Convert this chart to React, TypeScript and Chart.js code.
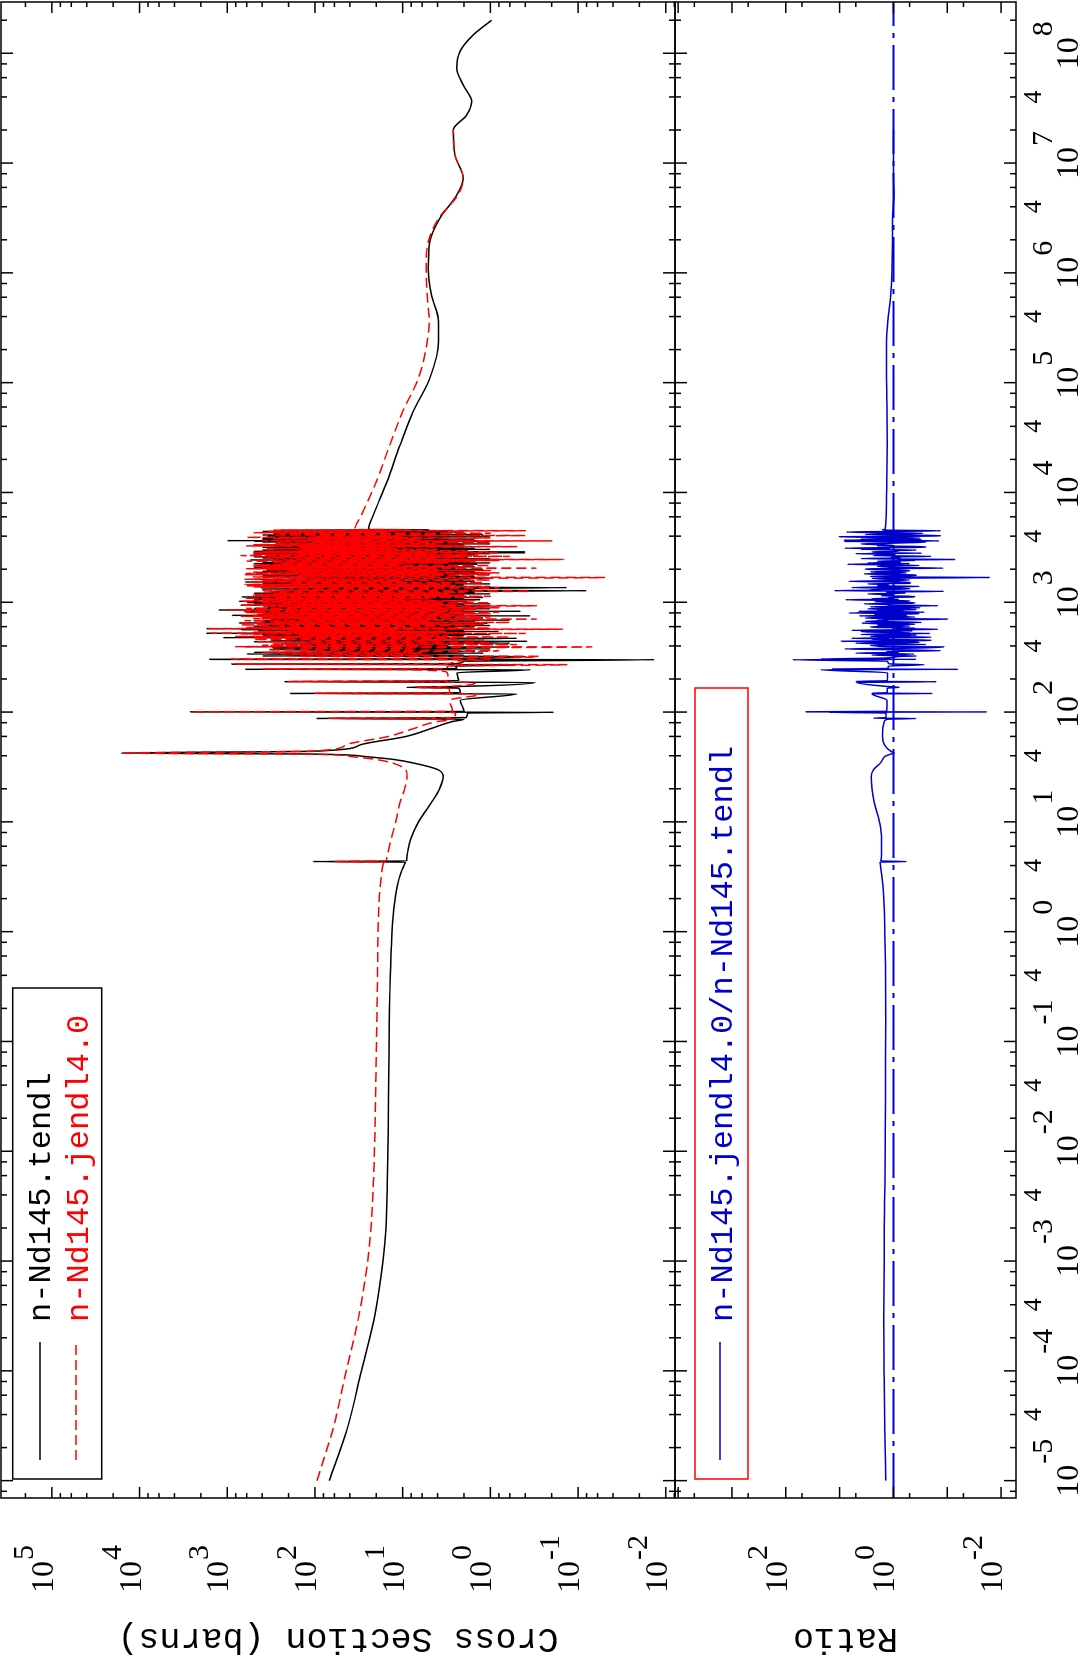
import React, { useEffect, useRef } from "react";
import { Chart, registerables } from "chart.js";

Chart.register(...registerables);

// ---------------- data (energy in eV, cross sections in barns) ----------------
// thermal / 1/v region and first resonances
const lowEnergyEV = [
  1e-5, 3e-5, 1e-4, 3e-4, 1e-3, 2e-3, 5e-3, 0.015, 0.05, 0.15,
  0.5, 1.0, 1.8, 2.6, 3.4, 3.9, 4.2, 4.3, 4.35, 4.4,
  4.6, 5.5, 7, 10, 15, 20, 26, 30, 34, 37,
  39.5, 41.5, 42.3, 44, 50, 60, 71, 82,
];
const lowTendl = [
  68.7, 42.7, 29.5, 21.1, 16.8, 15.5, 15.0, 14.6, 14.4, 14.2,
  13.7, 13.2, 12.4, 11.5, 10.5, 9.8, 9.4, 9.3, 105, 9.0,
  9.0, 8.7, 8.1, 6.6, 4.7, 3.8, 3.45, 4.0, 7.1, 12.6,
  28, 126, 16200, 100, 31, 9.1, 4.7, 2.7,
];
const lowJendl = [
  95, 62, 44, 32, 25, 23, 21.6, 20.7, 20.2, 19.7,
  19.3, 19.1, 18.6, 18.0, 17.4, 17.0, 16.6, 16.5, 60, 15.5,
  15.2, 14.5, 13.5, 12.0, 10.7, 9.5, 8.9, 9.3, 12.6, 20,
  40, 140, 15800, 112, 45, 14.5, 7.4, 4.0,
];

// isolated resonances 86 - 290 eV
const isolatedEnergyEV = [
  86, 87.4, 87.9, 89, 98, 99.6, 100.3, 100.5, 101.5, 128,
  146.5, 147.6, 148.4, 150, 165, 168, 171, 186, 189, 190,
  193, 228, 243, 245, 246.5, 249, 262, 270, 273, 276,
  290,
];
const isolatedTendl = [
  2.0, 95, 30, 1.9, 1.8, 0.19, 2630, 60, 2.0, 2.2,
  0.5, 190, 40, 2.2, 2.3, 9, 2.3, 0.31, 220, 40,
  2.3, 2.4, 0.35, 615, 30, 2.4, 2.5, 0.5, 890, 2.5,
  2.0,
];
const isolatedJendl = [
  2.6, 36, 70, 2.6, 2.5, 3.0, 48, 2500, 2.7, 2.9,
  1.25, 36, 100, 2.9, 3.0, 7, 3.0, 1.5, 35, 200,
  3.0, 3.1, 7.8, 39, 400, 3.1, 3.1, 0.135, 800, 3.1,
  2.6,
];

// dense resolved resonance region 300 eV - 4.6 keV
const clusterEnergyEV = [
  300, 302, 304, 310, 322, 324, 330, 338, 344, 350,
  356, 362, 370, 376, 382, 388, 392, 394, 400, 406,
  412, 418, 424, 430, 437, 441, 447, 453, 459, 465,
  470, 476, 482, 488, 495, 502, 508, 515, 520, 522,
  528, 535, 542, 548, 555, 562, 568, 575, 582, 590,
  598, 606, 614, 622, 630, 638, 645, 648, 655, 662,
  670, 680, 688, 695, 702, 710, 718, 725, 733, 745,
  752, 760, 768, 775, 783, 790, 798, 805, 812, 820,
  828, 835, 842, 850, 858, 865, 872, 880, 890, 900,
  908, 915, 922, 930, 940, 948, 958, 968, 978, 988,
  1000, 1010, 1020, 1030, 1042, 1055, 1065, 1078, 1090, 1105,
  1118, 1132, 1145, 1160, 1175, 1192, 1210, 1225, 1240, 1258,
  1275, 1290, 1305, 1320, 1340, 1360, 1380, 1395, 1410, 1430,
  1450, 1470, 1490, 1510, 1530, 1550, 1570, 1595, 1620, 1650,
  1680, 1700, 1725, 1750, 1770, 1790, 1810, 1830, 1850, 1870,
  1895, 1920, 1945, 1970, 1995, 2020, 2045, 2070, 2100, 2130,
  2160, 2190, 2220, 2250, 2280, 2310, 2340, 2370, 2400, 2430,
  2450, 2470, 2500, 2530, 2560, 2590, 2620, 2660, 2700, 2740,
  2770, 2800, 2820, 2850, 2880, 2910, 2950, 2990, 3030, 3070,
  3110, 3160, 3210, 3260, 3300, 3350, 3400, 3450, 3500, 3540,
  3580, 3600, 3620, 3640, 3680, 3720, 3760, 3800, 3850, 3900,
  3950, 4000, 4050, 4100, 4150, 4200, 4250, 4300, 4360, 4420,
  4480, 4530, 4570,
];
const clusterTendl = [
  0.0135, 1585, 40, 1.6, 0.4, 400, 2.0, 600, 1.2, 500,
  1.5, 6.0, 320, 1.0, 300, 2.5, 0.6, 630, 3.0, 150,
  2.0, 250, 0.6, 3.0, 500, 0.38, 320, 6.0, 200, 2.0,
  0.5, 1120, 3.0, 300, 2.0, 400, 1.0, 500, 1.9, 1740,
  4.0, 200, 0.8, 450, 2.0, 700, 1.0, 1740, 2.5, 300,
  1.5, 500, 1.0, 350, 3.0, 250, 1.07, 740, 2.0, 400,
  1.5, 500, 0.6, 320, 3.0, 400, 1.2, 200, 2.5, 630,
  0.35, 890, 2.0, 200, 3.0, 400, 1.5, 250, 3.0, 630,
  0.45, 300, 2.0, 1260, 4.0, 300, 1.0, 500, 2.5, 350,
  1.5, 320, 1.0, 2.0, 710, 2.0, 400, 1.0, 500, 2.5,
  600, 1.8, 740, 3.0, 300, 1.3, 500, 2.0, 600, 1.2,
  690, 2.5, 300, 2.0, 400, 1.0, 500, 1.5, 320, 3.0,
  0.08, 220, 1.5, 400, 2.0, 0.135, 430, 3.0, 300, 2.0,
  500, 1.0, 400, 2.5, 630, 1.5, 300, 2.0, 500, 1.0,
  3.0, 400, 1.5, 400, 2.5, 630, 1.0, 300, 1.4, 510,
  1.5, 400, 2.0, 360, 1.2, 300, 2.5, 500, 1.5, 250,
  3.0, 400, 1.4, 500, 1.0, 400, 1.7, 300, 2.0, 550,
  2.0, 300, 1.0, 400, 1.8, 500, 3.0, 300, 1.5, 450,
  1.0, 500, 0.4, 300, 0.4, 500, 1.8, 400, 1.0, 300,
  1.5, 400, 2.0, 300, 2.0, 250, 1.0, 250, 2.5, 400,
  1.0, 500, 1.4, 1000, 3.0, 400, 1.5, 400, 3.1, 300,
  1.0, 350, 3.0, 400, 1.2, 300, 3.5, 300, 2.0, 400,
  3.0, 250, 5.0,
];
const clusterJendl = [
  1.0, 600, 900, 2.5, 0.28, 150, 5.0, 250, 6.0, 400,
  2.0, 0.8, 350, 8.0, 150, 0.4, 0.07, 810, 6.0, 400,
  0.5, 300, 3.0, 1.0, 450, 3.5, 120, 1.2, 500, 2.5,
  3.0, 500, 0.6, 800, 3.0, 150, 4.0, 700, 0.4, 1500,
  2.0, 500, 3.2, 200, 12, 400, 0.15, 1600, 1.0, 600,
  4.0, 250, 1.5, 700, 1.2, 400, 4.0, 750, 0.6, 300,
  5.0, 630, 1.2, 150, 0.3, 500, 4.0, 400, 1.0, 700,
  1.5, 500, 3.0, 450, 1.0, 150, 10, 600, 0.8, 630,
  2.0, 200, 4.0, 1000, 1.5, 500, 3.0, 600, 0.8, 200,
  4.0, 400, 1.3, 0.3, 700, 2.5, 600, 3.5, 250, 1.0,
  400, 4.0, 700, 1.5, 500, 10, 400, 5.0, 630, 1.5,
  300, 1.0, 500, 2.0, 500, 3.0, 300, 2.0, 400, 0.35,
  1.0, 400, 4.0, 200, 1.0, 0.8, 500, 1.0, 600, 2.5,
  630, 3.0, 200, 1.2, 500, 10, 400, 1.0, 630, 2.5,
  0.05, 510, 4.0, 150, 1.0, 620, 3.5, 600, 0.8, 500,
  4.0, 200, 1.0, 350, 4.0, 600, 0.3, 400, 2.0, 500,
  1.0, 500, 10, 250, 3.0, 300, 1.5, 600, 0.8, 450,
  0.145, 160, 4.0, 300, 2.0, 400, 0.6, 700, 1.4, 500,
  5.0, 150, 0.8, 500, 1.0, 400, 1.8, 150, 4.0, 350,
  12, 150, 0.5, 600, 2.0, 500, 4.0, 280, 1.0, 100,
  8.0, 263, 0.2, 400, 25, 120, 6.0, 300, 1.0, 600,
  10, 100, 0.4, 300, 4.0, 250, 1.0, 500, 15, 350,
  0.4, 300, 8.0,
];

// smooth high-energy region (JENDL-4.0 ends at 20 MeV)
const highEnergyEV = [
  4600, 6240, 12500, 27100, 54500, 1.1e5, 2.36e5, 3.6e5, 6.28e5, 1.1e6,
  1.92e6, 3.14e6, 5.1e6, 7.26e6, 1.19e7, 2.0e7, 2.74e7, 3.63e7, 5.14e7, 7.3e7,
  1.04e8, 1.47e8, 2.0e8,
];
const highTendl = [
  24.5, 21.6, 15.1, 10.7, 7.6, 4.9, 3.9, 3.9, 4.7, 5.1,
  4.9, 3.76, 2.42, 2.04, 2.54, 2.65, 1.86, 1.63, 2.04, 2.42,
  2.22, 1.57, 0.97,
];
const highJendl: (number | null)[] = [
  35, 29.5, 20, 14, 10, 6.6, 5.25, 4.98, 5.25, 5.4,
  5.1, 3.9, 2.35, 2.04, 2.54, 2.65, null, null, null, null,
  null, null, null,
];

// axis ranges and tick definitions
const energyRangeEV = [6.95e-6, 2.93e8];
const crossSectionRange = [0.00785, 3.8e5];
const ratioRange = [0.00528, 11430];
const referenceRatio = 1;
const energyDecades = [-5, -4, -3, -2, -1, 0, 1, 2, 3, 4, 5, 6, 7, 8];
const energyMinorMantissas = [2, 4, 6, 8];
const energyLabelledMantissa = 4;
const crossSectionDecades = [-2, -1, 0, 1, 2, 3, 4, 5];
const crossSectionMinorMantissas = [2, 4, 6, 8];
const ratioDecades = [-2, -1, 0, 1, 2, 3, 4];
const ratioLabelDecades = [-2, 0, 2];
const ratioMinorMantissas = [5];

const legendTendl = "n-Nd145.tendl";
const legendJendl = "n-Nd145.jendl4.0";
const legendRatio = "n-Nd145.jendl4.0/n-Nd145.tendl";
const titleCrossSection = "Cross Section (barns)";
const titleRatio = "Ratio";

// ---------------- chart ----------------
const W = 1667;
const H = 1082;
const SERIF = '"Liberation Serif", "DejaVu Serif", serif';
const MONO = '"Liberation Mono", "DejaVu Sans Mono", monospace';
const RED = "#ff0000";
const BLUE = "#0000cd";

function buildSeries() {
  const E = [...lowEnergyEV, ...isolatedEnergyEV, ...clusterEnergyEV, ...highEnergyEV];
  const T = [...lowTendl, ...isolatedTendl, ...clusterTendl, ...highTendl];
  const J: (number | null)[] = [...lowJendl, ...isolatedJendl, ...clusterJendl, ...highJendl];
  const tendl: { x: number; y: number }[] = [];
  const jendl: { x: number; y: number }[] = [];
  const ratio: { x: number; y: number }[] = [];
  for (let i = 0; i < E.length; i++) {
    tendl.push({ x: E[i], y: T[i] });
    const j = J[i];
    if (j !== null && j !== undefined) {
      jendl.push({ x: E[i], y: j });
      ratio.push({ x: E[i], y: j / T[i] });
    }
  }
  return { tendl, jendl, ratio };
}

const decorations = {
  id: "decorations",
  afterDraw(chart: any) {
    const ctx: CanvasRenderingContext2D = chart.ctx;
    const xs = chart.scales.x;
    const yc = chart.scales.yXS;
    const yr = chart.scales.yRatio;
    const L = chart.chartArea.left;
    const R = chart.chartArea.right;
    const seg = (x1: number, y1: number, x2: number, y2: number) => {
      ctx.beginPath();
      ctx.moveTo(x1, y1);
      ctx.lineTo(x2, y2);
      ctx.stroke();
    };
    ctx.save();
    ctx.setLineDash([]);
    ctx.strokeStyle = "#000";
    ctx.fillStyle = "#000";
    ctx.lineWidth = 1.5;
    const panels = [yc, yr];
    panels.forEach((s: any) => ctx.strokeRect(L, s.top, R - L, s.bottom - s.top));

    // energy ticks (top and bottom of each panel, inward)
    const eTicks: { v: number; len: number }[] = [];
    energyDecades.forEach((n) => eTicks.push({ v: Math.pow(10, n), len: 12 }));
    for (let n = -6; n <= 8; n++)
      energyMinorMantissas.forEach((m) => eTicks.push({ v: m * Math.pow(10, n), len: 6 }));
    eTicks.forEach((t) => {
      if (t.v < xs.min || t.v > xs.max) return;
      const px = xs.getPixelForValue(t.v);
      panels.forEach((s: any) => {
        seg(px, s.top, px, s.top + t.len);
        seg(px, s.bottom, px, s.bottom - t.len);
      });
    });

    // y ticks
    const yTicks = (scale: any, decades: number[], minors: number[], majorLen: number) => {
      const list: { v: number; len: number }[] = [];
      decades.forEach((n) => list.push({ v: Math.pow(10, n), len: majorLen }));
      for (let n = -4; n <= 6; n++) minors.forEach((m) => list.push({ v: m * Math.pow(10, n), len: 5 }));
      list.forEach((t) => {
        if (t.v < scale.min || t.v > scale.max) return;
        const py = scale.getPixelForValue(t.v);
        seg(L, py, L + t.len, py);
        seg(R, py, R - t.len, py);
      });
    };
    yTicks(yc, crossSectionDecades, crossSectionMinorMantissas, 11);
    yTicks(yr, ratioDecades, ratioMinorMantissas, 11);

    // labels
    ctx.textAlign = "left";
    ctx.textBaseline = "alphabetic";
    const expText = (n: number) => (n < 0 ? "-" + Math.abs(n) : String(n));
    const sup = (n: number, x: number, y: number, center: boolean, rise: number) => {
      ctx.font = `32px ${SERIF}`;
      const w = ctx.measureText("10").width;
      const x0 = center ? x - w / 2 : x;
      ctx.fillText("10", x0, y);
      ctx.font = `30px ${SERIF}`;
      ctx.fillText(expText(n), x0 + w + 1, y - rise);
    };
    energyDecades.forEach((n) => {
      const px = xs.getPixelForValue(Math.pow(10, n));
      sup(n, px, 1078, true, 26);
    });
    ctx.font = `26px ${SERIF}`;
    for (let n = -6; n <= 8; n++) {
      const v = energyLabelledMantissa * Math.pow(10, n);
      if (v < xs.min || v > xs.max) continue;
      const px = xs.getPixelForValue(v);
      const w = ctx.measureText(String(energyLabelledMantissa)).width;
      ctx.fillText(String(energyLabelledMantissa), px - w / 2, 1041);
    }
    crossSectionDecades.forEach((n) => {
      const py = yc.getPixelForValue(Math.pow(10, n));
      sup(n, 74, py + 1, false, 20);
    });
    ratioLabelDecades.forEach((n) => {
      const py = yr.getPixelForValue(Math.pow(10, n));
      sup(n, 74, py + 1, false, 20);
    });

    // axis titles
    ctx.font = `35px ${MONO}`;
    ctx.textAlign = "center";
    const title = (text: string, cy: number) => {
      ctx.save();
      ctx.translate(38, cy);
      ctx.rotate(-Math.PI / 2);
      ctx.fillText(text, 0, 0);
      ctx.restore();
    };
    title(titleCrossSection, (yc.top + yc.bottom) / 2);
    title(titleRatio, (yr.top + yr.bottom) / 2);
    ctx.textAlign = "left";

    // legend: cross sections
    ctx.lineWidth = 1.5;
    ctx.strokeStyle = "#000";
    ctx.strokeRect(188, 12.7, 491, 89);
    seg(207, 40, 325, 40);
    ctx.strokeStyle = RED;
    ctx.setLineDash([10, 5]);
    seg(207, 76, 325, 76);
    ctx.setLineDash([]);
    ctx.font = `32px ${MONO}`;
    ctx.fillStyle = "#000";
    ctx.fillText(legendTendl, 345, 50);
    ctx.fillStyle = RED;
    ctx.fillText(legendJendl, 345, 88);

    // legend: ratio
    ctx.strokeStyle = RED;
    ctx.strokeRect(188, 695, 791, 53);
    ctx.strokeStyle = BLUE;
    seg(207, 720, 325, 720);
    ctx.fillStyle = BLUE;
    ctx.fillText(legendRatio, 345, 732);
    ctx.restore();
  },
};

export default function App() {
  const ref = useRef<HTMLCanvasElement>(null);
  useEffect(() => {
    document.body.style.margin = "0";
    document.documentElement.style.overflow = "hidden";
    const { tendl, jendl, ratio } = buildSeries();
    const hiddenAxis = {
      ticks: { display: false },
      grid: { display: false },
      border: { display: false },
    };
    const chart = new Chart(ref.current as HTMLCanvasElement, {
      type: "scatter",
      data: {
        datasets: [
          {
            label: legendJendl,
            data: jendl,
            yAxisID: "yXS",
            showLine: true,
            borderColor: RED,
            borderWidth: 1.5,
            borderDash: [10, 5],
            pointRadius: 0,
            cubicInterpolationMode: "monotone",
            order: 0,
          },
          {
            label: legendTendl,
            data: tendl,
            yAxisID: "yXS",
            showLine: true,
            borderColor: "#000",
            borderWidth: 1.5,
            pointRadius: 0,
            cubicInterpolationMode: "monotone",
            order: 1,
          },
          {
            label: legendRatio,
            data: ratio,
            yAxisID: "yRatio",
            showLine: true,
            borderColor: BLUE,
            borderWidth: 1.5,
            pointRadius: 0,
            cubicInterpolationMode: "monotone",
            order: 2,
          },
          {
            label: "ratio = 1",
            data: [
              { x: energyRangeEV[0], y: referenceRatio },
              { x: energyRangeEV[1], y: referenceRatio },
            ],
            yAxisID: "yRatio",
            showLine: true,
            borderColor: BLUE,
            borderWidth: 2,
            borderDash: [45, 7, 5, 7],
            pointRadius: 0,
            order: 3,
          },
        ],
      },
      options: {
        animation: false,
        responsive: false,
        events: [],
        layout: { padding: { top: 1, right: 2, left: 0, bottom: 0 } },
        plugins: { legend: { display: false }, tooltip: { enabled: false } },
        scales: {
          x: {
            type: "logarithmic",
            position: "bottom",
            min: energyRangeEV[0],
            max: energyRangeEV[1],
            bounds: "data",
            ...hiddenAxis,
            afterFit(s: any) {
              s.height = 66;
            },
          },
          yRatio: {
            type: "logarithmic",
            position: "left",
            stack: "panels",
            stackWeight: 341,
            weight: 0,
            min: ratioRange[0],
            max: ratioRange[1],
            bounds: "data",
            ...hiddenAxis,
            afterFit(s: any) {
              s.width = 169;
            },
          },
          yXS: {
            type: "logarithmic",
            position: "left",
            stack: "panels",
            stackWeight: 674,
            weight: 1,
            min: crossSectionRange[0],
            max: crossSectionRange[1],
            bounds: "data",
            ...hiddenAxis,
            afterFit(s: any) {
              s.width = 169;
            },
          },
        },
      } as any,
      plugins: [decorations],
    });
    return () => chart.destroy();
  }, []);
  return (
    <div
      style={{
        position: "absolute",
        left: 0,
        top: 0,
        width: W,
        height: H,
        background: "#fff",
        transformOrigin: "0 0",
        transform: `translateY(${W}px) rotate(-90deg)`,
      }}
    >
      <canvas ref={ref} width={W} height={H} style={{ display: "block", width: W, height: H }} />
    </div>
  );
}
